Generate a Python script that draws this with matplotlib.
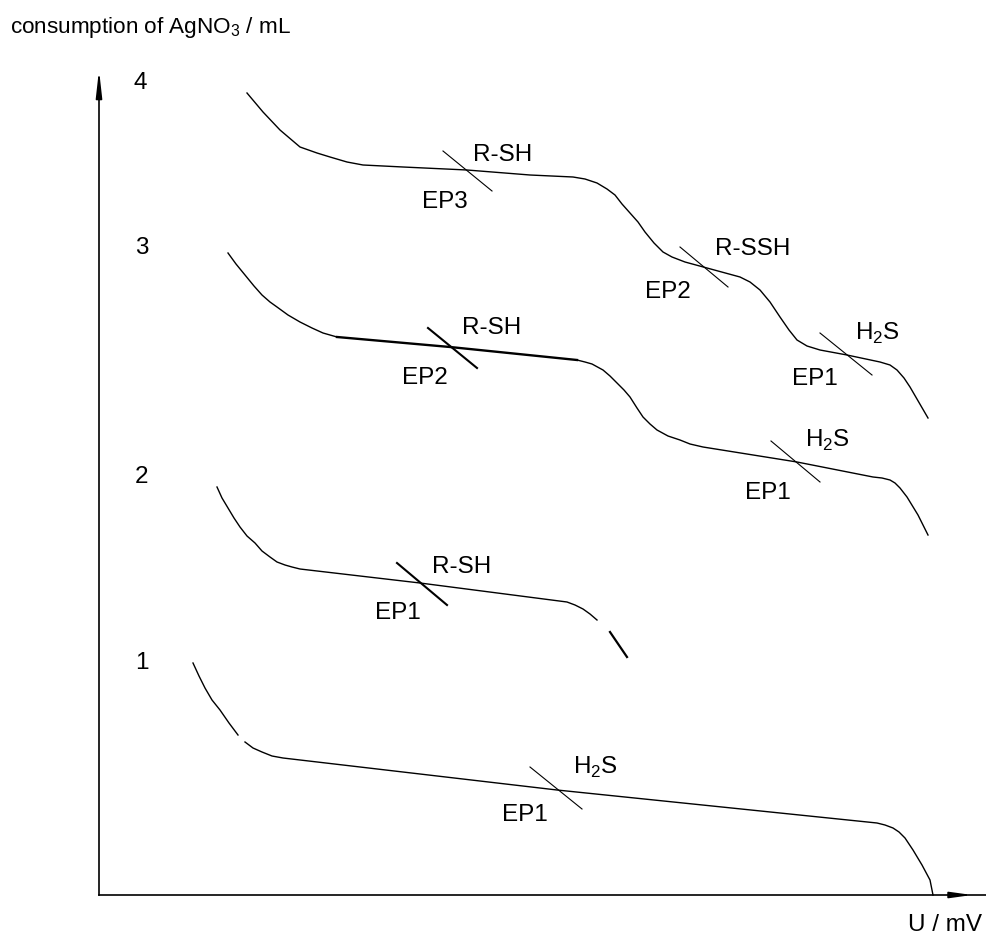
import matplotlib
matplotlib.use("Agg")
import matplotlib.pyplot as plt

plt.rcParams["font.family"] = ["Liberation Sans", "DejaVu Sans"]
plt.rcParams["mathtext.fontset"] = "custom"
plt.rcParams["mathtext.rm"] = "Liberation Sans"

# curve 4 (top): R-SH, R-SSH, H2S
c4_u = [148, 164, 181, 201, 218, 231, 248, 264, 304, 368, 431, 474, 486, 498,
        508, 516, 523, 531, 539, 546, 555, 564, 573, 586, 608, 641, 651, 661,
        671, 681, 690, 698, 708, 721, 748, 781, 791, 798, 805, 811, 829]
c4_v = [802, 783, 765, 748, 742, 738, 733, 730, 728, 725, 720, 718, 716, 712,
        706, 700, 691, 682, 673, 663, 652, 643, 638, 633, 627, 618, 613, 605,
        593, 578, 565, 555, 549, 545, 540, 533, 530, 525, 517, 508, 477]

# curve 3: R-SH, H2S (plateau drawn heavier)
c3_u = [129, 137, 146, 155, 163, 171, 178, 189, 201, 213, 224, 238]
c3_v = [642, 631, 620, 609, 600, 593, 588, 580, 573, 567, 562, 558]
c3_mid_u = [238, 351, 478]
c3_mid_v = [558, 548, 535]
c3_end_u = [478, 486, 493, 504, 511, 518, 525, 531, 538, 544, 551, 558, 569,
            581, 591, 604, 698, 774, 783, 791, 796, 801, 808, 819, 829]
c3_end_v = [535, 533, 531, 525, 519, 512, 505, 498, 487, 478, 471, 465, 459,
            455, 451, 448, 433, 418, 417, 415, 412, 407, 398, 380, 360]

# curve 2: R-SH
c2_u = [118, 123, 129, 135, 141, 148, 156, 163, 171, 178, 186, 193, 201, 321,
        468, 476, 484, 491, 498]
c2_v = [408, 397, 387, 377, 368, 359, 352, 344, 338, 333, 330, 328, 326, 312,
        293, 290, 286, 281, 275]
c2_tail_u = [511, 528]
c2_tail_v = [263, 238]

# curve 1: H2S
c1_head_u = [94, 100, 106, 113, 121, 130, 139]
c1_head_v = [232, 219, 207, 195, 185, 172, 160]
c1_u = [146, 154, 163, 173, 184, 458, 778, 786, 794, 800, 806, 810, 814, 823,
        831, 834]
c1_v = [153, 147, 143, 139, 137, 105, 72, 70, 67, 63, 57, 51, 45, 30, 15, 0]

# equivalence point marks: (u0, v0, u1, v1, linewidth)
ep_marks = [
    (344, 744, 393, 704, 0.8),
    (581, 648, 629, 608, 0.8),
    (721, 562, 773, 520, 0.8),
    (329, 567, 378, 527, 1.5),
    (672, 454, 721, 413, 0.8),
    (298, 332, 348, 290, 1.5),
    (431, 128, 483, 86, 0.8),
]

# annotation labels
label_text = ["R-SH", "EP3", "R-SSH", "EP2", r"H$_\mathregular{2}$S", "EP1",
              "R-SH", "EP2", r"H$_\mathregular{2}$S", "EP1",
              "R-SH", "EP1",
              r"H$_\mathregular{2}$S", "EP1"]
label_u = [404, 346, 654, 569, 778, 716, 393, 326, 728, 669, 363, 299, 496, 426]
label_v = [740, 693, 646, 603, 562, 516, 567, 517, 455, 402, 328, 282, 128, 80]

curve_names = ["4", "3", "2", "1"]
curve_name_u = [41, 43, 43, 43]
curve_name_v = [812, 647, 418, 232]

fig = plt.figure(figsize=(9.87, 9.43), dpi=100)
ax = fig.add_axes([0, 0, 1, 1])
ax.set_xlim(-99, 888)
ax.set_ylim(-48, 895)
ax.axis("off")

lw = 1.0
ax.plot(c4_u, c4_v, color="black", linewidth=lw)
ax.plot(c3_u, c3_v, color="black", linewidth=lw)
ax.plot(c3_mid_u, c3_mid_v, color="black", linewidth=1.7)
ax.plot(c3_end_u, c3_end_v, color="black", linewidth=lw)
ax.plot(c2_u, c2_v, color="black", linewidth=lw)
ax.plot(c2_tail_u, c2_tail_v, color="black", linewidth=1.6)
ax.plot(c1_head_u, c1_head_v, color="black", linewidth=lw)
ax.plot(c1_u, c1_v, color="black", linewidth=lw)

for u0, v0, u1, v1, w in ep_marks:
    ax.plot([u0, u1], [v0, v1], color="black", linewidth=w)

for text, u, v in zip(label_text, label_u, label_v):
    ax.text(u, v, text, fontsize=17.5, ha="center", va="center")

for text, u, v in zip(curve_names, curve_name_u, curve_name_v):
    ax.text(u, v, text, fontsize=17.5, ha="center", va="center")

# axes with arrows
ax.plot([0, 0], [0, 805], color="black", linewidth=1.2)
ax.annotate(
    "",
    xy=(0, 828),
    xytext=(0, 800),
    arrowprops=dict(arrowstyle="-|>,head_length=1.6,head_width=0.18",
                    color="black", linewidth=1.2),
)
ax.plot([0, 888], [0, 0], color="black", linewidth=1.2)
ax.annotate(
    "",
    xy=(876, 0),
    xytext=(850, 0),
    arrowprops=dict(arrowstyle="-|>,head_length=1.3,head_width=0.18",
                    color="black", linewidth=1.2),
)

ax.text(-89, 867, r"consumption of AgNO$_\mathregular{3}$ / mL",
        fontsize=16.2, ha="left", va="center")
ax.text(883, -30, "U / mV", fontsize=17.5, ha="right", va="center")

fig.savefig("out.png", dpi=100)
